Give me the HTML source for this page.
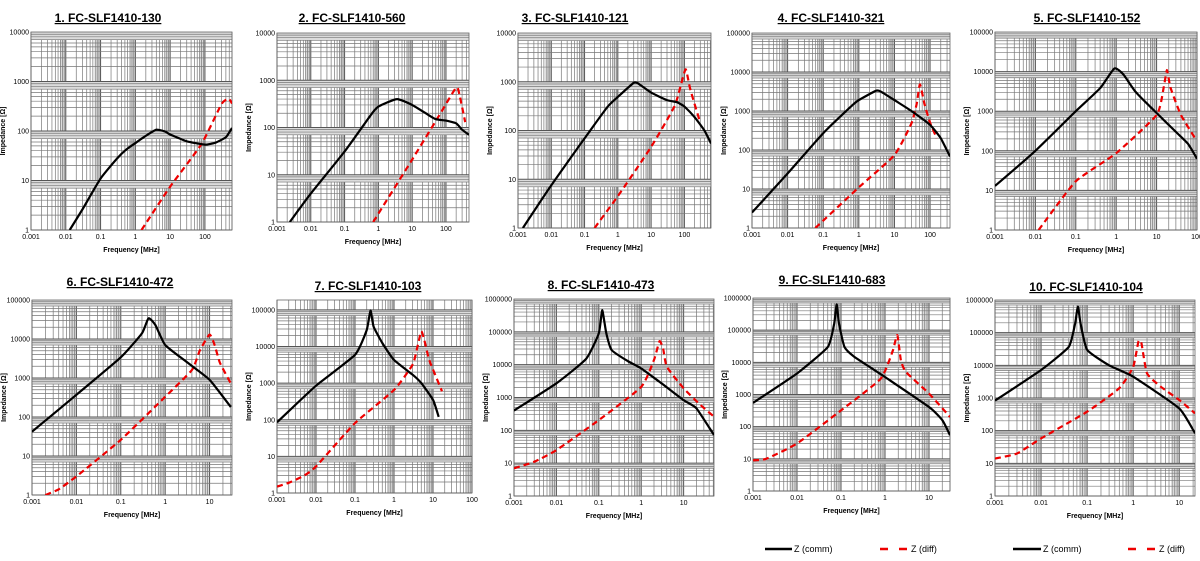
<!DOCTYPE html>
<html><head><meta charset="utf-8"><title>FC-SLF1410 impedance curves</title>
<style>
html,body{margin:0;padding:0;background:#fff;}
svg{display:block;font-family:"Liberation Sans",Arial,sans-serif;}
</style></head>
<body>
<svg id="root" width="1200" height="561" viewBox="0 0 1200 561">
  <g id="charts"></g>
  <g>
    <g>
      <line x1="765" y1="549" x2="792" y2="549" stroke="#000" stroke-width="2.5"/>
      <text x="794" y="552" font-size="9">Z (comm)</text>
    </g>
    <g>
      <line x1="880" y1="549" x2="910" y2="549" stroke="#e00" stroke-width="2.5" stroke-dasharray="8,11"/>
      <text x="911" y="552" font-size="9">Z (diff)</text>
    </g>
    <g>
      <line x1="1013" y1="549" x2="1041" y2="549" stroke="#000" stroke-width="2.5"/>
      <text x="1043" y="552" font-size="9">Z (comm)</text>
    </g>
    <g>
      <line x1="1128" y1="549" x2="1158" y2="549" stroke="#e00" stroke-width="2.5" stroke-dasharray="8,11"/>
      <text x="1159" y="552" font-size="9">Z (diff)</text>
    </g>
  </g>
</svg>
<script>
// ---- data ----
const titles = ["1. FC-SLF1410-130","2. FC-SLF1410-560","3. FC-SLF1410-121","4. FC-SLF1410-321","5. FC-SLF1410-152",
                "6. FC-SLF1410-472","7. FC-SLF1410-103","8. FC-SLF1410-473","9. FC-SLF1410-683","10. FC-SLF1410-104"];
const xMaxValues = [600,480,630,363,100,32,100,52,30,22];
const yMaxExps = [4,4,4,5,5,5,5.27,6,6,6];
const yTickLabels = ["1","10","100","1000","10000","100000","1000000"];
const xTickLabels = ["0.001","0.01","0.1","1","10","100"];
const commSeries = [
 [[0.013,1],[0.03,2.6],[0.1,11],[0.3,28],[0.5,40],[1,57],[2,80],[4,106],[7,98],[10,85],[30,62],[100,53],[200,58],[400,75],[600,115]],
 [[0.0024,1],[0.01,4],[0.1,31],[0.6,185],[1,277],[3.5,400],[10,300],[30,185],[50,150],[100,140],[200,123],[300,90],[480,70]],
 [[0.0014,1],[0.01,7.5],[0.1,69],[0.5,310],[1,490],[3,950],[4,930],[10,600],[30,420],[60,380],[100,310],[200,190],[400,100],[630,54]],
 [[0.001,2.5],[0.01,25],[0.1,270],[0.6,1300],[1,1900],[3,3300],[4,3200],[10,1900],[30,1000],[100,440],[200,200],[363,68]],
 [[0.001,13],[0.01,100],[0.1,1000],[0.4,3800],[0.9,12000],[1.5,8500],[3,3100],[10,900],[30,300],[60,150],[100,63]],
 [[0.001,42],[0.01,370],[0.1,3400],[0.3,14000],[0.42,34000],[0.6,23000],[1,7000],[3,2600],[10,900],[30,180]],
 [[0.001,85],[0.01,850],[0.1,5900],[0.2,28000],[0.25,96000],[0.3,35000],[0.5,12500],[1,4300],[3,1700],[5,1000],[10,350],[14,120]],
 [[0.001,400],[0.01,2700],[0.05,15000],[0.1,90000],[0.12,460000],[0.15,90000],[0.2,28000],[0.5,12500],[1,7700],[3,2700],[10,830],[20,470],[52,72]],
 [[0.001,550],[0.01,4500],[0.05,30000],[0.07,160000],[0.08,630000],[0.09,160000],[0.12,30000],[0.2,15000],[1,3500],[10,410],[20,160],[30,54]],
 [[0.001,830],[0.01,7200],[0.04,37000],[0.055,195000],[0.063,630000],[0.072,195000],[0.1,30000],[0.3,10000],[1,4500],[10,480],[22,83]]
];
const diffSeries = [
 [[1.5,1],[10,7.5],[80,55],[300,350],[480,450],[600,360]],
 [[0.7,1],[10,21],[60,170],[200,700],[250,500],[370,130]],
 [[0.2,1],[1,4.5],[10,46],[50,310],[80,900],[110,1800],[150,700],[295,150]],
 [[0.06,1],[1,11],[10,74],[30,480],[42,1500],[52,4800],[70,1500],[100,500],[155,200]],
 [[0.012,1],[0.1,17],[1,87],[10,800],[15,4000],[18,11000],[22,4000],[40,800],[95,190]],
 [[0.002,1],[0.004,1.4],[0.01,3],[0.1,26],[1,330],[4,1600],[6,5000],[10,13000],[13,7000],[17,2500],[30,730]],
 [[0.001,1.5],[0.002,1.9],[0.005,3],[0.01,5.3],[0.1,81],[1,650],[3,3200],[4,10000],[5,26000],[6,15000],[8,4300],[17,600]],
 [[0.001,7],[0.003,11],[0.01,25],[0.1,205],[1,2100],[2,14000],[2.7,52000],[3.3,30000],[4,8700],[10,1900],[25,590],[52,260]],
 [[0.001,9],[0.002,10],[0.01,30],[0.1,320],[0.8,3100],[1.5,23000],[1.9,70000],[2.3,11500],[3,5000],[10,1070],[30,200]],
 [[0.001,14],[0.003,20],[0.01,58],[0.1,380],[0.5,2000],[1,9000],[1.3,53000],[1.5,50000],[2,5700],[4,2200],[10,870],[22,340]]
];
// ---- layout (plot boxes: left, top, right, bottom; title position) ----
const boxes = [
 [31,32,232,230,108,18],[277,33,469,222,352,18],[518,33,711,228,575,18],[752,33,950,228,831,18],[995,32,1197,230,1087,18],
 [32,300,232,495,120,282],[277,300,472,493,368,286],[514,299,714,496,601,285],[753,298,950,491,832,280],[995,300,1195,496,1086,287]
];
const NS="http://www.w3.org/2000/svg";
function mk(tag,attrs,parent){const e=document.createElementNS(NS,tag);for(const k in attrs)e.setAttribute(k,attrs[k]);parent.appendChild(e);return e;}
const root=document.getElementById('charts');
titles.forEach((t,i)=>{
  const [L,T,R,B,tx,ty]=boxes[i];
  const xMinE=-3, xMaxE=Math.log10(xMaxValues[i]), yMaxE=yMaxExps[i];
  const xs=v=>L+(Math.log10(v)-xMinE)/(xMaxE-xMinE)*(R-L);
  const ys=v=>B-(Math.log10(v))/yMaxE*(B-T);
  const g=mk('g',{},root);
  
  
  const ttl=mk('text',{x:tx,y:ty+4,'font-size':12,'font-weight':'bold','text-anchor':'middle','text-decoration':'underline'},g);
  ttl.textContent=t;
  
  
  const grid=mk('g',{},g);
  
  
  for(let d=-3;d<=3;d++){
    const a=Math.pow(10,d);
    if(Math.log10(7*a)<xMaxE){const x1=xs(7*a),x2=Math.min(R,xs(10*a));mk('rect',{x:x1,y:T,width:x2-x1,height:B-T,fill:'#dcdcdc'},grid);}
    for(let k=1;k<=9;k++){const v=k*a;const e=Math.log10(v);if(e<xMinE-1e-9||e>xMaxE)continue;const x=xs(v);
      mk('line',{x1:x,y1:T,x2:x,y2:B,stroke:k===1?'#555':'#777','stroke-width':k===1?1:0.7},grid);}
  }
  for(let d=0;d<Math.ceil(yMaxE);d++){
    const a=Math.pow(10,d);
    if(Math.log10(7*a)<yMaxE){const y2=ys(7*a),y1=Math.max(T,ys(10*a));mk('rect',{x:L,y:y1,width:R-L,height:y2-y1,fill:'#dcdcdc'},grid);}
    for(let k=1;k<=9;k++){const v=k*a;const e=Math.log10(v);if(e>yMaxE)continue;const y=ys(v);
      mk('line',{x1:L,y1:y,x2:R,y2:y,stroke:k===1?'#555':'#777','stroke-width':k===1?1:0.7},grid);}
  }
  mk('rect',{x:L,y:T,width:R-L,height:B-T,fill:'none',stroke:'#666','stroke-width':0.8},grid);
  for(let d=0;d<=Math.floor(yMaxE);d++){
    const tl=mk('text',{x:L-2,y:ys(Math.pow(10,d))+2.5,'font-size':7,'text-anchor':'end'},g);
    tl.textContent=yTickLabels[d];
    
    
  }
  for(let d=-3;d<=2;d++){
    if(d>xMaxE+0.05)continue;
    const tl=mk('text',{x:xs(Math.pow(10,d)),y:B+9,'font-size':7,'text-anchor':'middle'},g);
    tl.textContent=xTickLabels[d+3];
    
    
  }
  const xl=mk('text',{x:(L+R)/2,y:B+22,'font-size':7,'font-weight':'bold','text-anchor':'middle'},g);
  xl.textContent='Frequency [MHz]';
  
  
  const yx=L-26, yy=(T+B)/2;
  const yl=mk('text',{x:yx,y:yy,'font-size':7,'font-weight':'bold','text-anchor':'middle',transform:`rotate(-90 ${yx} ${yy})`},g);
  yl.textContent='Impedance [Ω]';
  
  
  const clipId='clip'+i;
  const cp=mk('clipPath',{id:clipId},g);mk('rect',{x:L,y:T,width:R-L,height:B-T},cp);
  const toPath=pts=>{
    const p=pts.map(([f,z])=>[xs(f),ys(z)]);
    let d='M'+p[0][0].toFixed(1)+','+p[0][1].toFixed(1);
    const k=12;
    for(let j=0;j<p.length-1;j++){
      const p0=p[Math.max(0,j-1)],p1=p[j],p2=p[j+1],p3=p[Math.min(p.length-1,j+2)];
      const c1=[p1[0]+(p2[0]-p0[0])/k,p1[1]+(p2[1]-p0[1])/k],c2=[p2[0]-(p3[0]-p1[0])/k,p2[1]-(p3[1]-p1[1])/k];
      d+=` C${c1[0].toFixed(1)},${c1[1].toFixed(1)} ${c2[0].toFixed(1)},${c2[1].toFixed(1)} ${p2[0].toFixed(1)},${p2[1].toFixed(1)}`;
    }
    return d;
  };
  const dl=mk('path',{d:toPath(diffSeries[i]),fill:'none',stroke:'#e00','stroke-width':2.2,'stroke-dasharray':'6,4','stroke-linejoin':'round','clip-path':`url(#${clipId})`},g);
  
  
  const cl=mk('path',{d:toPath(commSeries[i]),fill:'none',stroke:'#000','stroke-width':2.2,'stroke-linejoin':'round','clip-path':`url(#${clipId})`},g);
  
  
});
</script>
</body></html>
